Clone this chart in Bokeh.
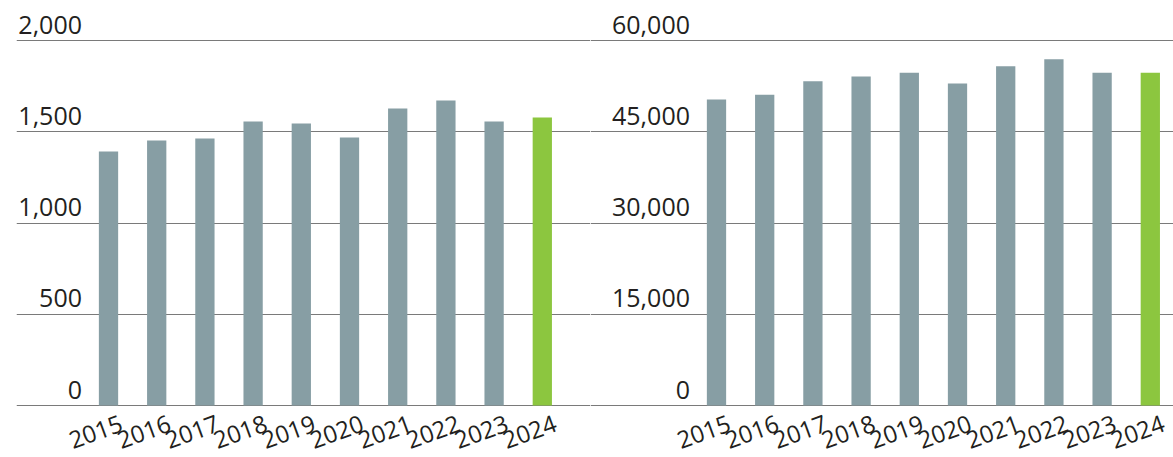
from bokeh.plotting import figure
from bokeh.models import ColumnDataSource, Range1d, Grid, FixedTicker, LabelSet
from bokeh.layouts import row
from bokeh.core.properties import value
from bokeh.embed import file_html
from bokeh.resources import INLINE

# ---------------- data ----------------
years = ["2015", "2016", "2017", "2018", "2019", "2020", "2021", "2022", "2023", "2024"]
left_values = [1392, 1452, 1463, 1556, 1545, 1468, 1627, 1671, 1556, 1578]
right_values = [50300, 51100, 53300, 54100, 54700, 52950, 55750, 56900, 54700, 54700]
highlight_year = "2024"

left_ticks = [0, 500, 1000, 1500, 2000]
left_tick_labels = ["0", "500", "1,000", "1,500", "2,000"]
right_ticks = [0, 15000, 30000, 45000, 60000]
right_tick_labels = ["0", "15,000", "30,000", "45,000", "60,000"]

# ---------------- style ----------------
BAR_GREY = "#879ea4"
BAR_GREEN = "#8cc63f"
GRID = "#7a7a7a"
TEXT = "#231f20"
FONT = "Open Sans"
H = 457
TOP_PX = 40      # pixel row of the top grid line
ZERO_PX = 405    # pixel row of the zero line


def make_chart(vals, ticks, tick_labels, ymax, xr, width, left_border):
    u = ymax / float(ZERO_PX - TOP_PX)      # data units per pixel
    p = figure(width=width, height=H, output_backend="svg", toolbar_location=None,
               x_axis_location=None, y_axis_location=None,
               x_range=Range1d(*xr),
               y_range=Range1d(-(H - ZERO_PX) * u, ymax + TOP_PX * u),
               min_border=0, min_border_left=left_border, min_border_right=0,
               min_border_top=0, min_border_bottom=0)
    p.center = [r for r in p.center if not isinstance(r, Grid)]
    p.outline_line_color = None
    p.background_fill_color = "white"
    p.border_fill_color = "white"

    p.add_layout(Grid(dimension=1, ticker=FixedTicker(ticks=ticks),
                      grid_line_color=GRID, grid_line_width=1))

    xs = list(range(len(years)))
    colors = [BAR_GREEN if y == highlight_year else BAR_GREY for y in years]
    src = ColumnDataSource(dict(x=xs, top=vals, color=colors, year=years))
    p.vbar(x="x", top="top", bottom=0, width=0.4, fill_color="color",
           line_color=None, source=src)

    # x labels (rotated)
    p.add_layout(LabelSet(x="x", y=0, text="year", source=src,
                          angle=0.35, text_align="right", text_baseline="alphabetic",
                          x_offset=16, y_offset=-25,
                          text_font=value(FONT), text_font_size="24px",
                          text_color=TEXT))

    # y labels above grid lines
    ysrc = ColumnDataSource(dict(y=ticks, text=tick_labels))
    p.add_layout(LabelSet(x=-0.55, y="y", text="text", source=ysrc,
                          text_align="right", text_baseline="alphabetic",
                          y_offset=7,
                          text_font=value(FONT), text_font_size="25px",
                          text_color=TEXT))
    return p


left = make_chart(left_values, left_ticks, left_tick_labels, 2000,
                  (-1.909, 10.0), 590, 16)
right = make_chart(right_values, right_ticks, right_tick_labels, 60000,
                   (-2.614, 9.481), 583, 0)

layout = row(left, right, spacing=0)
open("out.html", "w").write(file_html(layout, INLINE))
